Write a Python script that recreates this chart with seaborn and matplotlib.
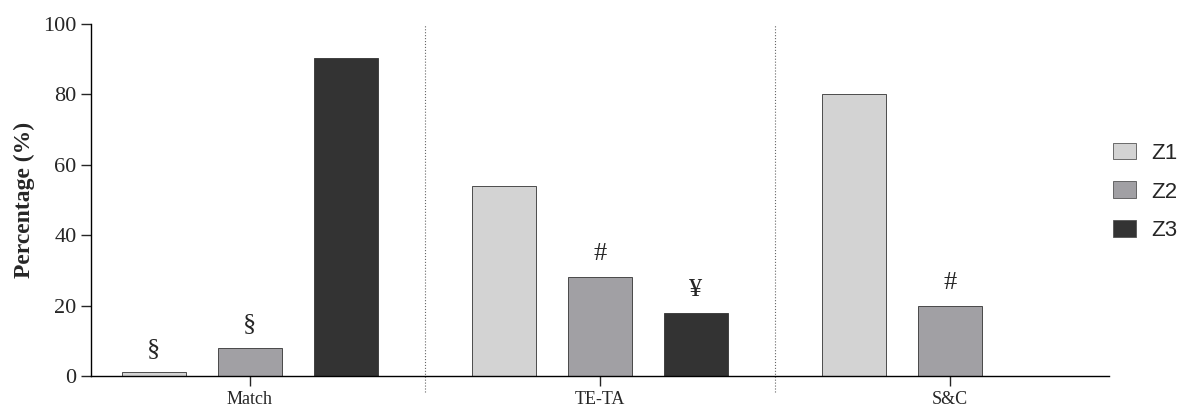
import pandas as pd
import matplotlib.pyplot as plt
import seaborn as sns

# data
groups = ['Match', 'TE-TA', 'S&C']
zones = ['Z1', 'Z2', 'Z3']
match_vals = [1.1, 8.0, 90.3]
teta_vals = [54.0, 28.0, 17.8]
sc_vals = [80.0, 19.8]          # no Z3 bar for S&C
marks = {('Match', 'Z1'): '§', ('Match', 'Z2'): '§',
         ('TE-TA', 'Z2'): '#', ('TE-TA', 'Z3'): '¥',
         ('S&C', 'Z2'): '#'}

rows = []
for g, vals in zip(groups, [match_vals, teta_vals, sc_vals]):
    for z, v in zip(zones, vals):
        rows.append((g, z, v))
df = pd.DataFrame(rows, columns=['Group', 'Zone', 'Percentage'])

palette = {'Z1': '#d3d3d3', 'Z2': '#a1a0a4', 'Z3': '#333333'}

sns.set_style('ticks')
plt.rcParams['font.family'] = ['Liberation Serif', 'DejaVu Serif']

fig = plt.figure(figsize=(11.79, 4.12), dpi=100)
ax = fig.add_axes([0.0772, 0.0874, 0.8634, 0.8543])

sns.barplot(data=df, x='Group', y='Percentage', hue='Zone', order=groups,
            hue_order=zones, palette=palette, width=0.823, gap=0.34,
            edgecolor='#333333', linewidth=0.6, saturation=1, ax=ax,
            legend=False)

# significance marks above bars
for container, z in zip(ax.containers, zones):
    for bar, g in zip(container, groups):
        key = (g, z)
        if key in marks and bar.get_height() == bar.get_height():
            ax.text(bar.get_x() + bar.get_width() / 2, bar.get_height() + 3.5,
                    marks[key], ha='center', va='bottom', fontsize=19)

# dotted separators between groups
for xs in [0.5, 1.5]:
    ax.plot([xs, xs], [-4.5, 100], ls=':', lw=0.8, color='#666666',
            clip_on=False)

ax.set_xlim(-0.454, 2.454)
ax.set_ylim(0, 100)
ax.set_yticks([0, 20, 40, 60, 80, 100])
ax.tick_params(axis='y', labelsize=16, length=7, width=1, direction='out')
ax.tick_params(axis='x', labelsize=13, length=7, width=1, direction='out')
ax.set_xlabel('')
ax.set_ylabel('Percentage (%)', fontsize=17, fontweight='bold', labelpad=6)
sns.despine(ax=ax)
for s in ['left', 'bottom']:
    ax.spines[s].set_linewidth(1)
    ax.spines[s].set_color('black')

handles = [plt.Rectangle((0, 0), 1, 1, facecolor=palette[z],
                         edgecolor='#555555', linewidth=0.6) for z in zones]
fig.legend(handles, zones, loc='center left', bbox_to_anchor=(0.944, 0.534),
           frameon=False, prop={'family': 'Liberation Sans', 'size': 16},
           borderpad=0, borderaxespad=0,
           handlelength=1.04, handleheight=0.77, labelspacing=0.8,
           handletextpad=0.68)

fig.savefig('out.png', dpi=100)
